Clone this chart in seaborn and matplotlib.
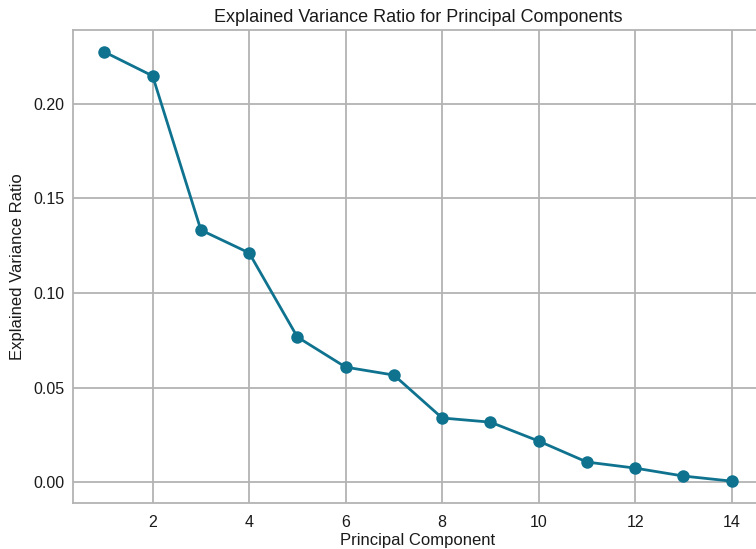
import numpy as np
import matplotlib
matplotlib.use('Agg')
import matplotlib.pyplot as plt
import seaborn as sns

# Explained variance ratio per component
components = list(range(1, 15))
explained_variance = [0.2275, 0.2148, 0.1333, 0.1212, 0.0767, 0.0608, 0.0566,
                      0.0339, 0.0317, 0.0217, 0.0106, 0.0074, 0.0032, 0.0005]

sns.set_style('whitegrid', {
    'grid.color': '#b3b3b3',
    'axes.edgecolor': '#b3b3b3',
})
plt.rcParams['font.family'] = ['Liberation Sans', 'DejaVu Sans']

fig = plt.figure(figsize=(7.56, 5.49), dpi=100)
# axes run past the right edge of the figure, as in the original
ax = fig.add_axes([0.0966, 0.0845, 0.9127, 0.860])

sns.lineplot(x=components, y=explained_variance, ax=ax, color='#0f7390',
             marker='o', markersize=9, linewidth=2, markeredgewidth=0)

ax.grid(True, linewidth=1.3)
for s in ax.spines.values():
    s.set_linewidth(1.3)
ax.tick_params(length=0, labelsize=11.5, colors='#1a1a1a')
ax.tick_params(axis='x', pad=9)
ax.tick_params(axis='y', pad=6)
ax.set_xticks([2, 4, 6, 8, 10, 12, 14])
ax.set_yticks([0.0, 0.05, 0.10, 0.15, 0.20])
ax.yaxis.set_major_formatter(matplotlib.ticker.FormatStrFormatter('%.2f'))

ax.set_title('Explained Variance Ratio for Principal Components', fontsize=13, pad=6,
             color='#1a1a1a')
ax.set_xlabel('Principal Component', fontsize=12, labelpad=2, color='#1a1a1a')
ax.set_ylabel('Explained Variance Ratio', fontsize=12, labelpad=6, color='#1a1a1a')

fig.savefig('out.png', dpi=100)
